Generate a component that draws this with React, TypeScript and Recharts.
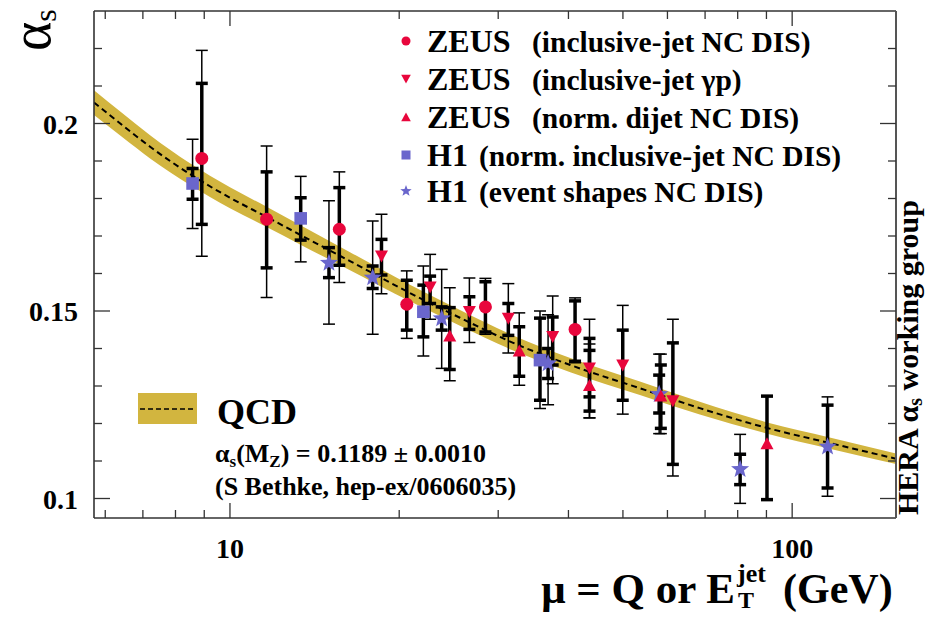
import React from "react";
import { ComposedChart, XAxis, YAxis, Area, Line, Scatter, ErrorBar } from "recharts";

const RED = "#e8063c";
const BLUE = "#6a66cc";
const GOLD = "#d2b53f";
const AXIS = "#333";
const FONT = "'Liberation Serif', 'Times New Roman', serif";

// QCD prediction band, alpha_s(MZ) = 0.1189 +- 0.0010
const qcdMu = [5.73, 6.43, 7.21, 8.49, 10, 11.62, 13.3, 16.35, 20.9, 25.65, 31.9, 40.3, 53.6, 68.5, 90.3, 116.6, 153];
const qcdCentral = [0.2056, 0.1996, 0.1938, 0.1865, 0.1802, 0.1751, 0.1704, 0.1633, 0.1548, 0.1482, 0.1415, 0.1356, 0.1294, 0.1241, 0.1188, 0.1148, 0.1106];
const qcdLow = [0.2023, 0.1964, 0.1907, 0.1836, 0.1774, 0.1724, 0.1678, 0.1609, 0.1526, 0.1461, 0.1395, 0.1337, 0.1276, 0.1224, 0.1173, 0.1133, 0.1092];
const qcdHigh = [0.2089, 0.2028, 0.1969, 0.1894, 0.183, 0.1778, 0.173, 0.1657, 0.157, 0.1503, 0.1435, 0.1375, 0.1312, 0.1258, 0.1203, 0.1163, 0.112];

// ZEUS inclusive-jet NC DIS
const zeusNcMu = [8.91, 11.62, 15.65, 20.63, 28.47, 41.1];
const zeusNcAlpha = [0.1907, 0.1745, 0.1718, 0.1518, 0.1511, 0.1451];
const zeusNcStat = [[0.0176, 0.02], [0.013, 0.0126], [0.0096, 0.0111], [0.0069, 0.0064], [0.0067, 0.0067], [0.0085, 0.0076]];
const zeusNcTot = [[0.0261, 0.0288], [0.0209, 0.0195], [0.0142, 0.0153], [0.0091, 0.0089], [0.0073, 0.0076], [0.0089, 0.0084]];

// ZEUS inclusive-jet photoproduction
const zeusGpMu = [18.6, 22.7, 26.66, 31.27, 37.5, 43.6, 49.96, 61.35];
const zeusGpAlpha = [0.1646, 0.1563, 0.1498, 0.148, 0.1431, 0.1347, 0.1355, 0.126];
const zeusGpStat = [[0.005, 0.0045], [0.0043, 0.003], [0.0047, 0.004], [0.0045, 0.004], [0.0075, 0.0053], [0.0076, 0.008], [0.0093, 0.0094], [0.0169, 0.0155]];
const zeusGpTot = [[0.01, 0.0112], [0.0085, 0.0088], [0.0082, 0.009], [0.0092, 0.0093], [0.0125, 0.0109], [0.0132, 0.0131], [0.013, 0.016], [0.02, 0.0218]];

// ZEUS normalised dijet NC DIS
const zeusDjMu = [24.6, 32.7, 43.6, 58.4, 90.2];
const zeusDjAlpha = [0.1434, 0.1394, 0.1302, 0.1274, 0.1147];
const zeusDjStat = [[0.009, 0.0075], [0.0068, 0.0064], [0.0069, 0.0093], [0.0087, 0.0082], [0.015, 0.0126]];
const zeusDjTot = [[0.012, 0.0128], [0.0092, 0.0101], [0.0087, 0.011], [0.0101, 0.0111], [0.015, 0.0126]];

// H1 normalised inclusive-jet NC DIS
const h1JetMu = [8.58, 13.36, 22.08, 35.6];
const h1JetAlpha = [0.184, 0.1747, 0.1498, 0.1369];
const h1JetStat = [[0.0042, 0.004], [0.0058, 0.0055], [0.0067, 0.0071], [0.0107, 0.0112]];
const h1JetTot = [[0.012, 0.0118], [0.0116, 0.0112], [0.0118, 0.0122], [0.0129, 0.0131]];

// H1 event shapes NC DIS
const h1EsMu = [15.0, 17.94, 23.8, 36.8, 58.0, 80.8, 115.6];
const h1EsAlpha = [0.1628, 0.1589, 0.148, 0.136, 0.1278, 0.1078, 0.1138];
const h1EsStat = [[0.0039, 0.0041], [0.0029, 0.0031], [0.0031, 0.0031], [0.004, 0.004], [0.005, 0.0051], [0.0041, 0.004], [0.011, 0.0111]];
const h1EsTot = [[0.0163, 0.0166], [0.0151, 0.0151], [0.0133, 0.0131], [0.011, 0.013], [0.0105, 0.0107], [0.0091, 0.0093], [0.0132, 0.0133]];

const xTicks = [6, 7, 8, 9, 10, 20, 30, 40, 50, 60, 70, 80, 90, 100];
const yTicks = [0.1, 0.11, 0.12, 0.13, 0.14, 0.15, 0.16, 0.17, 0.18, 0.19, 0.2, 0.21, 0.22];
const yLabels: Record<string, string> = { "0.1": "0.1", "0.15": "0.15", "0.2": "0.2" };

const curve = qcdMu.map((mu, i) => ({ mu, c: qcdCentral[i], band: [qcdLow[i], qcdHigh[i]] }));

const toPoints = (mu: number[], a: number[], stat: number[][], tot: number[][]) =>
  mu.map((m, i) => ({ mu: m, a: a[i], stat: stat[i], tot: tot[i] }));

const zeusNc = toPoints(zeusNcMu, zeusNcAlpha, zeusNcStat, zeusNcTot);
const zeusGp = toPoints(zeusGpMu, zeusGpAlpha, zeusGpStat, zeusGpTot);
const zeusDj = toPoints(zeusDjMu, zeusDjAlpha, zeusDjStat, zeusDjTot);
const h1Jet = toPoints(h1JetMu, h1JetAlpha, h1JetStat, h1JetTot);
const h1Es = toPoints(h1EsMu, h1EsAlpha, h1EsStat, h1EsTot);

// marker shapes
const circle = (cx: number, cy: number, r: number) => <circle cx={cx} cy={cy} r={r} fill={RED} />;
const triDown = (cx: number, cy: number, s: number) => (
  <polygon points={`${cx - s},${cy - s * 0.9} ${cx + s},${cy - s * 0.9} ${cx},${cy + s * 0.95}`} fill={RED} />
);
const triUp = (cx: number, cy: number, s: number) => (
  <polygon points={`${cx - s},${cy + s * 0.9} ${cx + s},${cy + s * 0.9} ${cx},${cy - s * 0.95}`} fill={RED} />
);
const square = (cx: number, cy: number, s: number) => (
  <rect x={cx - s} y={cy - s} width={2 * s} height={2 * s} fill={BLUE} />
);
const star = (cx: number, cy: number, R: number) => {
  const pts: string[] = [];
  for (let k = 0; k < 10; k++) {
    const ang = -Math.PI / 2 + (k * Math.PI) / 5;
    const rad = k % 2 === 0 ? R : R * 0.42;
    pts.push(`${cx + rad * Math.cos(ang)},${cy + rad * Math.sin(ang)}`);
  }
  return <polygon points={pts.join(" ")} fill={BLUE} />;
};

const isMajorY = (v: number) => Math.abs(v - 0.1) < 1e-6 || Math.abs(v - 0.15) < 1e-6 || Math.abs(v - 0.2) < 1e-6;

const BottomTick = (props: any) => {
  const { x, y, payload } = props;
  const v = payload.value;
  const major = v === 10 || v === 100;
  return (
    <g>
      <line x1={x} x2={x} y1={y} y2={y - (major ? 15 : 8)} stroke={AXIS} strokeWidth={1.3} />
      {major && (
        <text x={x} y={y + 40} textAnchor="middle" fontFamily={FONT} fontWeight="bold" fontSize={28} fill="#000">
          {v}
        </text>
      )}
    </g>
  );
};

const TopTick = (props: any) => {
  const { x, y, payload } = props;
  const major = payload.value === 10 || payload.value === 100;
  return <line x1={x} x2={x} y1={y} y2={y + (major ? 15 : 8)} stroke={AXIS} strokeWidth={1.3} />;
};

const LeftTick = (props: any) => {
  const { x, y, payload } = props;
  const v = payload.value;
  const major = isMajorY(v);
  const label = yLabels[String(Math.round(v * 100) / 100)];
  return (
    <g>
      <line x1={x} x2={x + (major ? 16 : 8)} y1={y} y2={y} stroke={AXIS} strokeWidth={1.3} />
      {major && label && (
        <text x={x - 16} y={y + 10} textAnchor="end" fontFamily={FONT} fontWeight="bold" fontSize={28} fill="#000">
          {label}
        </text>
      )}
    </g>
  );
};

const RightTick = (props: any) => {
  const { x, y, payload } = props;
  const major = isMajorY(payload.value);
  return <line x1={x} x2={x - (major ? 16 : 8)} y1={y} y2={y} stroke={AXIS} strokeWidth={1.3} />;
};

const errorBars = [
  <ErrorBar key="tot" dataKey="tot" direction="y" width={6} strokeWidth={1.5} stroke="#000" isAnimationActive={false} />,
  <ErrorBar key="stat" dataKey="stat" direction="y" width={6} strokeWidth={3.5} stroke="#000" isAnimationActive={false} />,
];

const legendRows = [
  { y: 52, big: "ZEUS", bigX: 427, small: "(inclusive-jet NC DIS)", smallX: 532, mark: (cy: number) => circle(406, cy, 4.5) },
  { y: 90, big: "ZEUS", bigX: 427, small: "(inclusive-jet γp)", smallX: 532, mark: (cy: number) => triDown(406, cy, 4.8) },
  { y: 128, big: "ZEUS", bigX: 427, small: "(norm. dijet NC DIS)", smallX: 532, mark: (cy: number) => triUp(406, cy, 4.8) },
  { y: 166, big: "H1", bigX: 427, small: "(norm. inclusive-jet NC DIS)", smallX: 479, mark: (cy: number) => square(406, cy, 4.5) },
  { y: 202, big: "H1", bigX: 427, small: "(event shapes NC DIS)", smallX: 479, mark: (cy: number) => star(406, cy, 6) },
];

export default function App() {
  return (
    <div style={{ position: "absolute", left: 0, top: 0, width: 928, height: 617, background: "#fff" }}>
      <ComposedChart width={928} height={617} data={curve} margin={{ top: 0, right: 0, bottom: 0, left: 0 }}>
        <XAxis
          xAxisId="b"
          dataKey="mu"
          type="number"
          scale="log"
          domain={[5.73, 153]}
          allowDataOverflow
          ticks={xTicks}
          interval={0}
          orientation="bottom"
          height={99}
          tickSize={0}
          tickMargin={0}
          tickLine={false}
          tick={<BottomTick />}
          axisLine={{ stroke: AXIS, strokeWidth: 1.6 }}
        />
        <XAxis
          xAxisId="t"
          dataKey="mu"
          type="number"
          scale="log"
          domain={[5.73, 153]}
          allowDataOverflow
          ticks={xTicks}
          interval={0}
          orientation="top"
          height={11}
          tickSize={0}
          tickMargin={0}
          tickLine={false}
          tick={<TopTick />}
          axisLine={{ stroke: AXIS, strokeWidth: 1.6 }}
        />
        <YAxis
          yAxisId="l"
          type="number"
          domain={[0.0948, 0.23]}
          allowDataOverflow
          ticks={yTicks}
          interval={0}
          width={94}
          tickSize={0}
          tickMargin={0}
          tickLine={false}
          tick={<LeftTick />}
          axisLine={{ stroke: AXIS, strokeWidth: 1.6 }}
        />
        <YAxis
          yAxisId="r"
          orientation="right"
          type="number"
          domain={[0.0948, 0.23]}
          allowDataOverflow
          ticks={yTicks}
          interval={0}
          width={32}
          tickSize={0}
          tickMargin={0}
          tickLine={false}
          tick={<RightTick />}
          axisLine={{ stroke: "#555", strokeWidth: 2 }}
        />
        <Area
          xAxisId="b"
          yAxisId="l"
          dataKey="band"
          type="monotone"
          fill={GOLD}
          fillOpacity={1}
          stroke="none"
          isAnimationActive={false}
        />
        <Line
          xAxisId="b"
          yAxisId="l"
          dataKey="c"
          type="monotone"
          stroke="#000"
          strokeWidth={2}
          strokeDasharray="6 4"
          dot={false}
          isAnimationActive={false}
        />
        <Scatter xAxisId="b" yAxisId="l" data={h1Jet} dataKey="a" isAnimationActive={false}
          shape={(p: any) => square(p.cx, p.cy, 6.3)}>
          {errorBars}
        </Scatter>
        <Scatter xAxisId="b" yAxisId="l" data={h1Es} dataKey="a" isAnimationActive={false}
          shape={(p: any) => star(p.cx, p.cy, 9.5)}>
          {errorBars}
        </Scatter>
        <Scatter xAxisId="b" yAxisId="l" data={zeusDj} dataKey="a" isAnimationActive={false}
          shape={(p: any) => triUp(p.cx, p.cy, 6.5)}>
          {errorBars}
        </Scatter>
        <Scatter xAxisId="b" yAxisId="l" data={zeusGp} dataKey="a" isAnimationActive={false}
          shape={(p: any) => triDown(p.cx, p.cy, 6.5)}>
          {errorBars}
        </Scatter>
        <Scatter xAxisId="b" yAxisId="l" data={zeusNc} dataKey="a" isAnimationActive={false}
          shape={(p: any) => circle(p.cx, p.cy, 6.5)}>
          {errorBars}
        </Scatter>
      </ComposedChart>

      <svg
        width={928}
        height={617}
        style={{ position: "absolute", left: 0, top: 0, pointerEvents: "none" }}
        fontFamily={FONT}
        fontWeight="bold"
      >
        {/* y axis title, rotated */}
        <text transform="translate(50,51) rotate(-90)" fontSize={56} fontWeight="normal" fill="#000">
          α<tspan fontSize={32} dy={6}>s</tspan>
        </text>

        {/* x axis title */}
        <text x={735} y={603} textAnchor="end" fontSize={43} fill="#000">μ = Q or E</text>
        <text x={737} y={582} fontSize={26} fill="#000">jet</text>
        <text x={738} y={608} fontSize={24} fill="#000">T</text>
        <text x={783} y={603} fontSize={42} fill="#000">(GeV)</text>

        {/* side label */}
        <text transform="translate(918,515) rotate(-90)" fontSize={30} fill="#000">
          HERA α<tspan fontSize={20} dy={4}>s</tspan>
          <tspan dy={-4}> working group</tspan>
        </text>

        {/* data legend */}
        {legendRows.map((r) => (
          <g key={r.small}>
            {r.mark(r.y - 11)}
            <text x={r.bigX} y={r.y} fontSize={32} fill="#000">{r.big}</text>
            <text x={r.smallX} y={r.y} fontSize={29.5} fill="#000">{r.small}</text>
          </g>
        ))}

        {/* QCD legend */}
        <rect x={138} y={393} width={59} height={31} fill={GOLD} />
        <line x1={140} x2={196} y1={409} y2={409} stroke="#000" strokeWidth={1.5} strokeDasharray="5 3" />
        <text x={217} y={424} fontSize={36} fill="#000">QCD</text>
        <text x={215} y={462} fontSize={26} fill="#000">
          α<tspan fontSize={17} dy={5}>s</tspan>
          <tspan dy={-5}>(M</tspan>
          <tspan fontSize={17} dy={5}>Z</tspan>
          <tspan dy={-5}>) = 0.1189 ± 0.0010</tspan>
        </text>
        <text x={215} y={495} fontSize={26} fill="#000">(S Bethke, hep-ex/0606035)</text>
      </svg>
    </div>
  );
}
